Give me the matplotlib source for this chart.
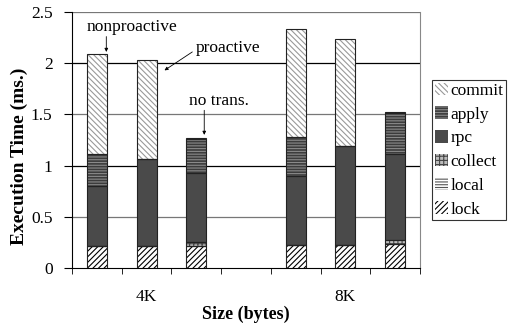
import matplotlib.pyplot as plt
import matplotlib.patches as mpatches
import numpy as np

plt.rcParams['font.family'] = ['Liberation Serif', 'DejaVu Serif']
plt.rcParams['hatch.linewidth'] = 0.8

# bar slots on the x axis (slot 3 is left empty between the groups)
slots = [0, 1, 2, 4, 5, 6]
group_labels = ["4K", "8K"]
group_slots = [1, 5]

# stacked components, bottom to top
components = ["lock", "local", "collect", "rpc", "apply", "commit"]
lock = [0.215, 0.215, 0.215, 0.225, 0.225, 0.23]
local = [0.0, 0.0, 0.0, 0.0, 0.0, 0.0]
collect = [0.0, 0.0, 0.035, 0.0, 0.0, 0.04]
rpc = [0.585, 0.845, 0.675, 0.675, 0.965, 0.84]
apply_ = [0.31, 0.0, 0.33, 0.38, 0.0, 0.40]
commit = [0.977, 0.97, 0.015, 1.05, 1.05, 0.01]

# face colour, hatch, hatch colour
styles = {
    "lock": ("white", "//////", "black"),
    "local": ("white", "------", "#555555"),
    "collect": ("#bbbbbb", "++++", "#444444"),
    "rpc": ("#4a4a4a", None, "#4a4a4a"),
    "apply": ("#3c3c3c", "------", "#8a8a8a"),
    "commit": ("white", "\\\\\\\\\\\\", "#999999"),
}

FS = 12.5

fig = plt.figure(figsize=(5.12, 3.26), dpi=100)
ax = fig.add_axes([72 / 512, 58 / 326, 348 / 512, 256 / 326])

x = np.array(slots) + 0.5
width = 0.4
bottom = np.zeros(len(slots))
for name, vals in zip(components, [lock, local, collect, rpc, apply_, commit]):
    vals = np.array(vals)
    fc, hatch, hc = styles[name]
    ax.bar(x, vals, width, bottom=bottom, color=fc, hatch=hatch,
           edgecolor=hc, linewidth=0, zorder=3)
    ax.bar(x, vals, width, bottom=bottom, fill=False,
           edgecolor="#222222", linewidth=0.8, zorder=4)
    bottom += vals

ax.set_xlim(0, 7)
ax.set_ylim(0, 2.5)
ax.set_yticks([0, 0.5, 1, 1.5, 2, 2.5])
ax.set_yticklabels(["0", "0.5", "1", "1.5", "2", "2.5"])
for yv in [0.5, 1, 1.5, 2, 2.5]:
    ax.axhline(yv, color="black" if yv in (1, 2) else "#777777",
               linewidth=0.9, zorder=1)

ax.set_xticks(range(8), minor=True)
ax.set_xticks(np.array(group_slots) + 0.5)
ax.set_xticklabels(group_labels)
ax.tick_params(axis="x", which="major", length=0, pad=15, labelsize=FS)
ax.tick_params(axis="x", which="minor", length=4.3, direction="out")
ax.tick_params(axis="y", length=6, direction="out", pad=8, labelsize=FS)

ax.spines["top"].set_visible(False)
ax.spines["right"].set_color("#888888")
ax.spines["bottom"].set_color("black")
ax.spines["left"].set_color("black")

fig.text(19 / 512, 1 - 156 / 326, "Execution Time (ms.)", rotation=90,
         fontweight="bold", fontsize=14, ha="center", va="center")
fig.text(246 / 512, 1 - 314 / 326, "Size (bytes)",
         fontweight="bold", fontsize=13, ha="center", va="center")

# annotations
arrow = dict(arrowstyle="-|>", color="black", lw=0.6, mutation_scale=5,
             shrinkA=0, shrinkB=0)
ax.text(1.2, 2.35, "nonproactive", ha="center", va="center", fontsize=FS)
ax.annotate("", xy=(0.69, 2.11), xytext=(0.69, 2.26), arrowprops=arrow)
ax.text(3.13, 2.15, "proactive", ha="center", va="center", fontsize=FS)
ax.annotate("", xy=(1.86, 1.93), xytext=(2.42, 2.11), arrowprops=arrow)
ax.text(2.96, 1.63, "no trans.", ha="center", va="center", fontsize=FS)
ax.annotate("", xy=(2.66, 1.30), xytext=(2.66, 1.54), arrowprops=arrow)

# legend, top entry first
handles = []
for name in reversed(components):
    fc, hatch, hc = styles[name]
    handles.append(mpatches.Patch(facecolor=fc, hatch=hatch, edgecolor=hc,
                                  linewidth=0, label=name))
leg = fig.legend(handles=handles, loc="upper left",
                 bbox_to_anchor=(432 / 512, 1 - 80 / 326),
                 fontsize=FS, frameon=True, fancybox=False,
                 handlelength=0.75, handleheight=0.75, handletextpad=0.15,
                 labelspacing=0.42, borderpad=0.15, borderaxespad=0)
leg.get_frame().set_edgecolor("black")
leg.get_frame().set_linewidth(0.8)

fig.savefig("out.png", dpi=100)
